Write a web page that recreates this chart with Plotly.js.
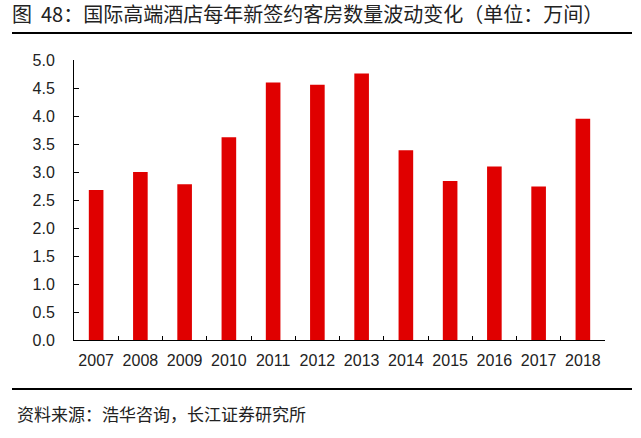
<!DOCTYPE html>
<html>
<head>
<meta charset="utf-8">
<script src="https://cdn.plot.ly/plotly-3.0.1.min.js"></script>
<style>html,body{margin:0;padding:0;background:#fff;}#chart{width:641px;height:438px;}</style>
</head>
<body>
<div id="chart"></div>
<script>
const years = ['2007','2008','2009','2010','2011','2012','2013','2014','2015','2016','2017','2018'];
const rooms = [2.68, 3.0, 2.78, 3.62, 4.6, 4.56, 4.76, 3.39, 2.84, 3.1, 2.74, 3.95];
const yTicks = [0,0.5,1,1.5,2,2.5,3,3.5,4,4.5,5];
const titleText = '图&nbsp;&nbsp;48：国际高端酒店每年新签约客房数量波动变化（单位：万间）';
const sourceText = '资料来源：浩华咨询，长江证券研究所';

const L = 74, R = 605, T = 60, B = 340;
const px = x => (x - L) / (R - L);
const py = y => (B - y) / (B - T);

const trace = {
  type: 'bar', x: years, y: rooms,
  marker: {color: '#e00000', line: {width: 0}},
  hoverinfo: 'x+y'
};
const cjk = '"Noto Sans CJK SC", "Liberation Sans", Arial, sans-serif';
const layout = {
  width: 641, height: 438,
  margin: {l: L, r: 641 - R, t: T, b: 438 - B},
  paper_bgcolor: '#fff', plot_bgcolor: '#fff',
  bargap: 0.67,
  showlegend: false,
  font: {family: '"Liberation Sans", Arial, sans-serif', color: '#222', size: 16},
  title: {text: titleText, x: 12/641, xanchor: 'left', xref: 'container', y: 1 - 15/438, yanchor: 'middle', yref: 'container',
          font: {family: cjk, size: 20, color: '#222'}},
  xaxis: {type: 'category', showline: true, linecolor: '#000', linewidth: 1, ticks: 'inside', tickson: 'boundaries',
          ticklen: 4, tickcolor: '#000', showgrid: false, zeroline: false, tickangle: 0, ticklabelstandoff: 6,
          tickfont: {size: 16, color: '#222'}},
  yaxis: {range: [0, 5], tickvals: yTicks, tickformat: '.1f', showline: true, linecolor: '#000', linewidth: 1,
          ticks: 'inside', ticklen: 5, tickcolor: '#000', showgrid: false, zeroline: false, ticklabelstandoff: 15,
          tickfont: {size: 16, color: '#222'}},
  shapes: [
    {type: 'line', xref: 'paper', yref: 'paper', x0: px(12), x1: px(632), y0: py(33), y1: py(33), line: {color: '#000', width: 2}},
    {type: 'line', xref: 'paper', yref: 'paper', x0: px(12), x1: px(632), y0: py(389), y1: py(389), line: {color: '#000', width: 2}}
  ],
  annotations: [
    {text: sourceText, xref: 'paper', yref: 'paper', x: px(15), y: py(413), xanchor: 'left', yanchor: 'middle', showarrow: false,
     font: {family: cjk, size: 17, color: '#222'}}
  ]
};
Plotly.newPlot('chart', [trace], layout, {displayModeBar: false, staticPlot: true});
</script>
</body>
</html>
